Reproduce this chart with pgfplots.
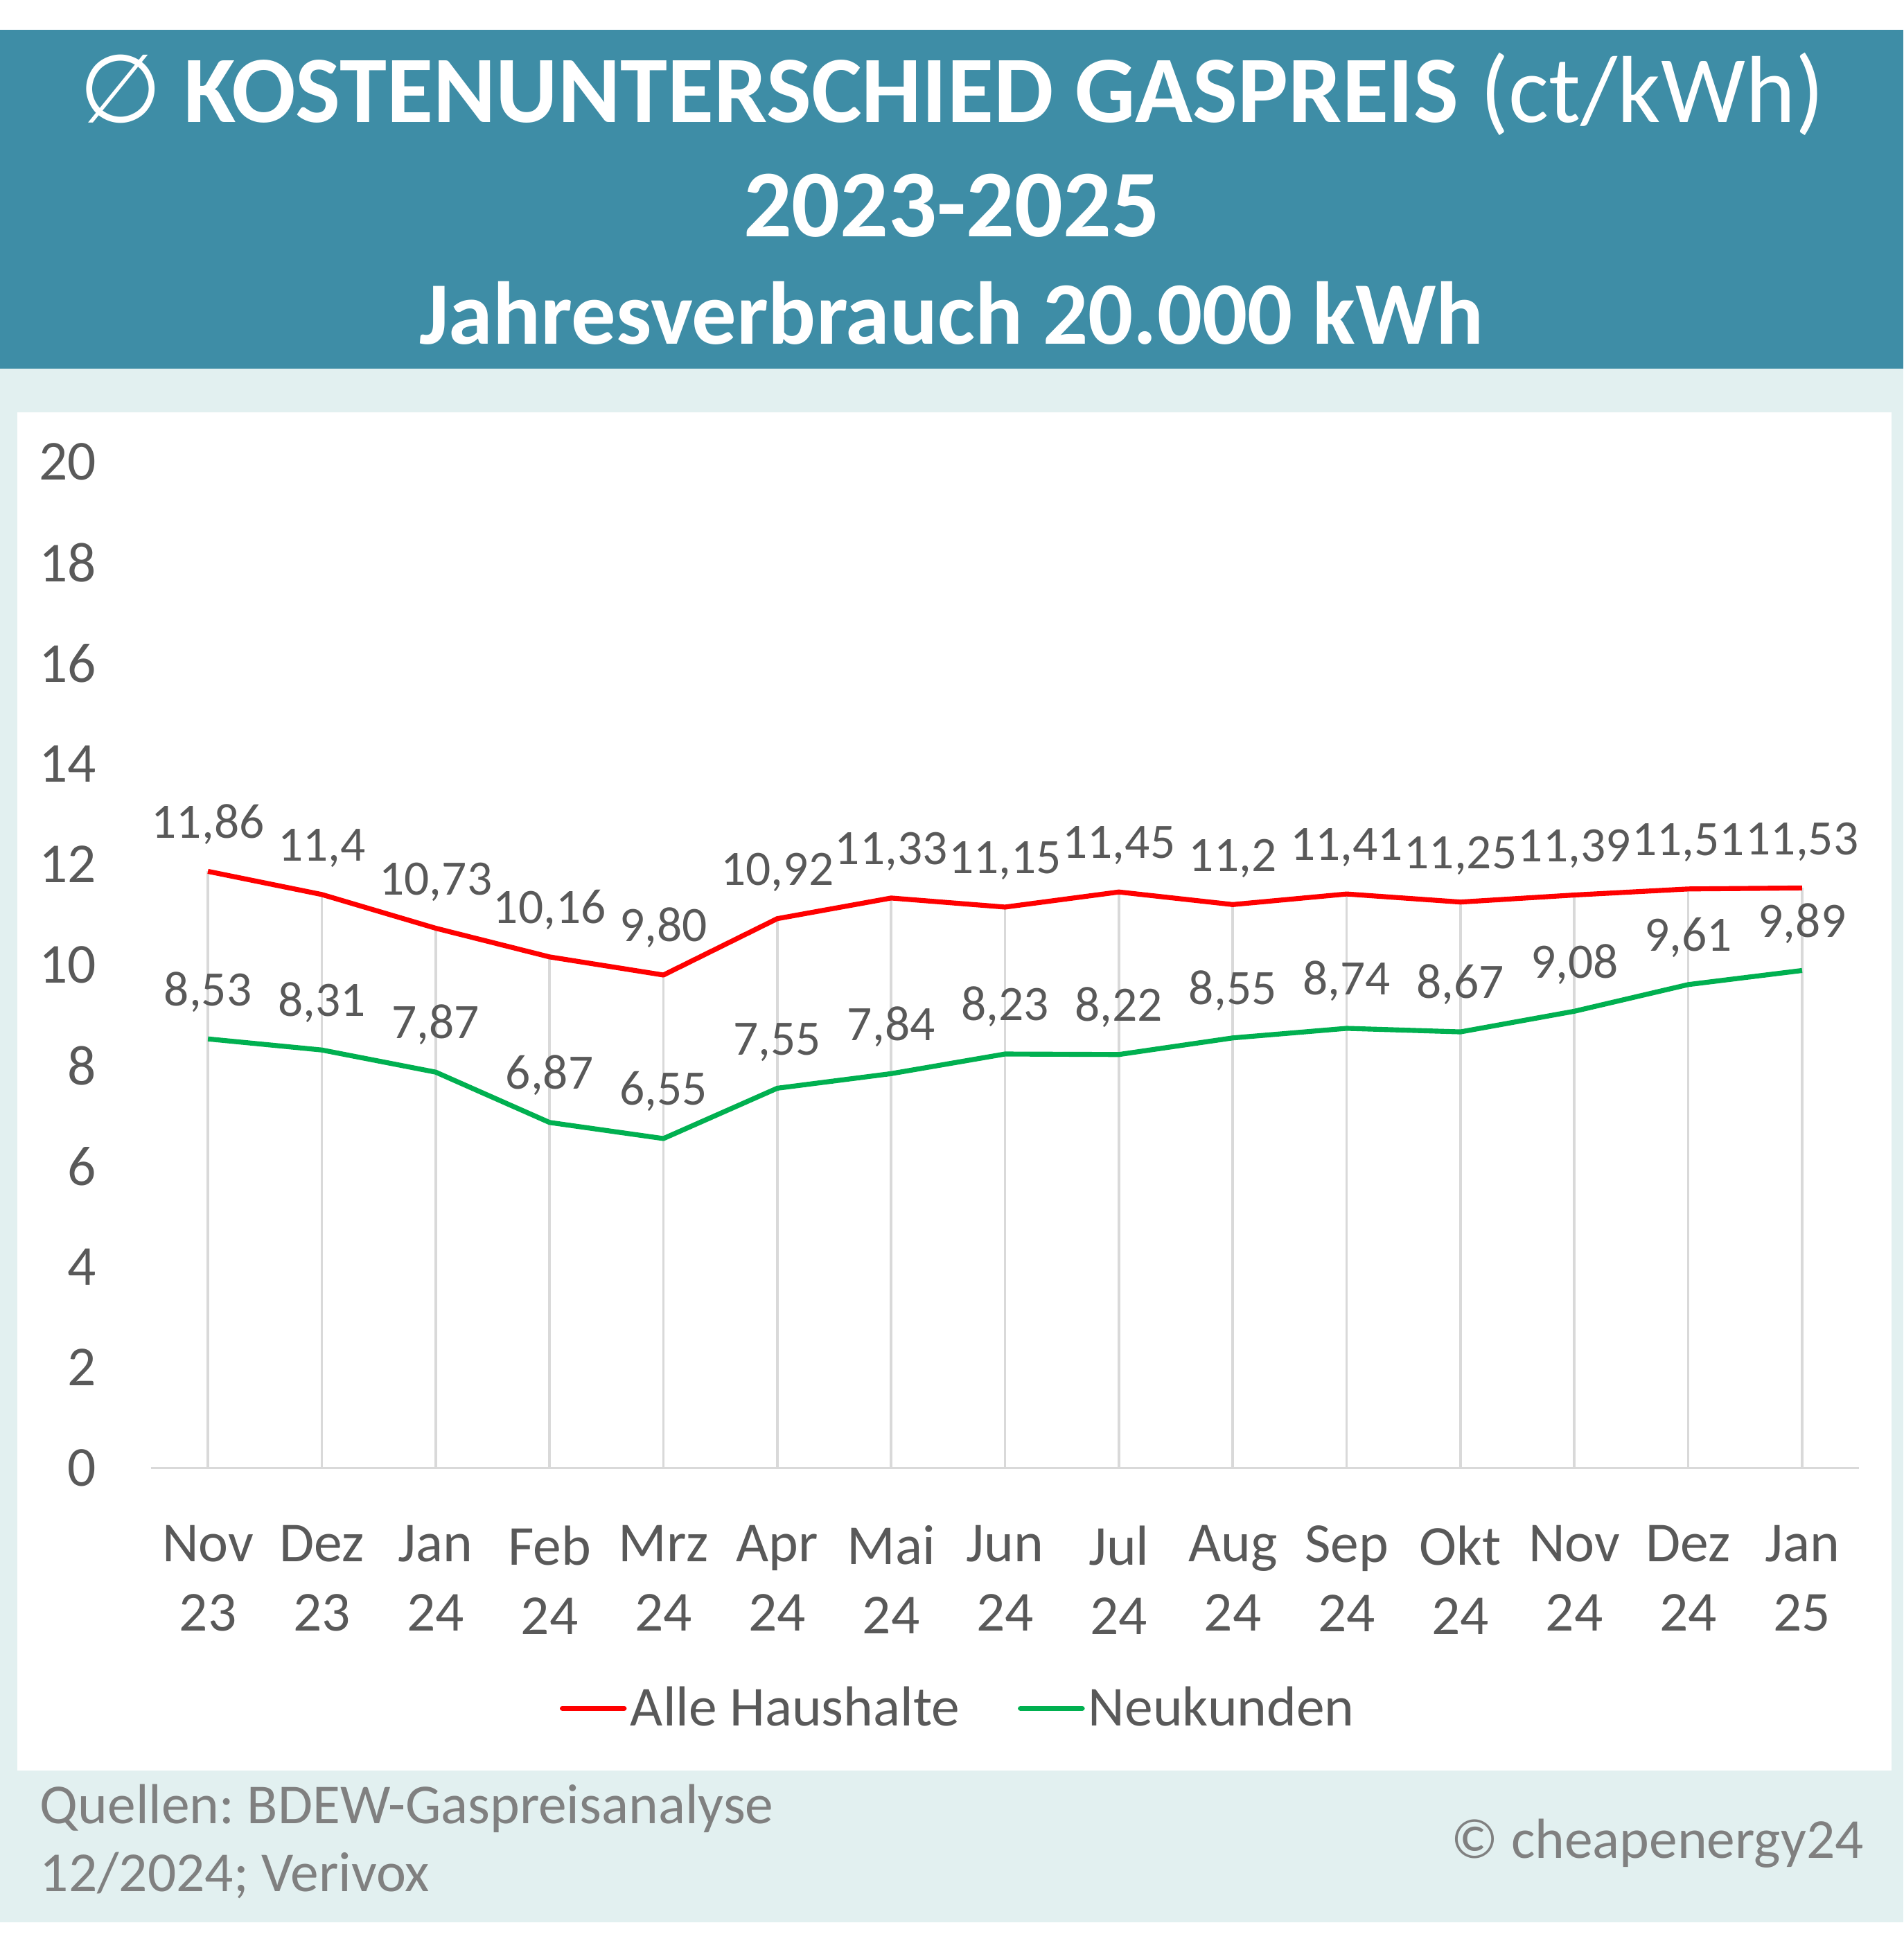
\documentclass[border=0pt]{standalone}
\usepackage{fontspec}
\setmainfont{Carlito}
\newfontfamily\djv{DejaVu Sans}
\usepackage{pgfplots}
\pgfplotsset{compat=1.18}
\usepackage{pgfplotstable}
\frenchspacing

\definecolor{bandteal}{HTML}{3E8DA6}
\definecolor{lightbg}{HTML}{E2F0F0}
\definecolor{txtgray}{HTML}{595959}
\definecolor{footgray}{HTML}{808080}
\definecolor{gridgray}{HTML}{D9D9D9}
\definecolor{alle}{HTML}{FF0000}
\definecolor{neu}{HTML}{00B050}

% month index, series values, printed labels
\pgfplotstableread{
x alle neu la ln
0 11.86 8.53 11,86 8,53
1 11.40 8.31 11,4 8,31
2 10.73 7.87 10,73 7,87
3 10.16 6.87 10,16 6,87
4 9.80 6.55 9,80 6,55
5 10.92 7.55 10,92 7,55
6 11.33 7.84 11,33 7,84
7 11.15 8.23 11,15 8,23
8 11.45 8.22 11,45 8,22
9 11.20 8.55 11,2 8,55
10 11.41 8.74 11,41 8,74
11 11.25 8.67 11,25 8,67
12 11.39 9.08 11,39 9,08
13 11.51 9.61 11,51 9,61
14 11.53 9.89 11,53 9,89
}\data

\begin{document}
\begin{tikzpicture}
\path[use as bounding box] (0,0) rectangle (769pt,-784pt);
\fill[white] (0,0) rectangle (769pt,-784pt);
\fill[bandteal] (0,-12pt) rectangle (769pt,-149pt);
\fill[lightbg] (0,-149pt) rectangle (769pt,-776.5pt);
\fill[white] (7pt,-166.5pt) rectangle (764pt,-715pt);

\node[anchor=base, text=white, inner sep=0pt, font=\fontsize{38.4}{44}\selectfont\bfseries]
  at (384.5pt,-49.5pt) {{\djv\mdseries ∅} KOSTENUNTERSCHIED GASPREIS {\mdseries (ct/kWh)}};
\node[anchor=base, text=white, inner sep=0pt, font=\fontsize{38.6}{44}\selectfont\bfseries]
  at (384.5pt,-95.5pt) {2023-2025};
\node[anchor=base, text=white, inner sep=0pt, font=\fontsize{36}{43}\selectfont\bfseries]
  at (384.5pt,-139pt) {Jahresverbrauch 20.000 kWh};

\begin{axis}[
  at={(61pt,-593pt)}, anchor=south west,
  scale only axis, width=690pt, height=406.5pt,
  xmin=-0.5, xmax=14.5, ymin=0, ymax=20,
  ytick={0,2,...,20},
  xtick={0,...,14},
  xticklabels={Nov\\23,Dez\\23,Jan\\24,Feb\\24,Mrz\\24,Apr\\24,Mai\\24,Jun\\24,Jul\\24,Aug\\24,Sep\\24,Okt\\24,Nov\\24,Dez\\24,Jan\\25},
  axis x line*=bottom, axis y line*=left,
  x axis line style={-, draw=gridgray, line width=1pt},
  y axis line style={draw=none},
  major tick length=0pt,
  /pgf/number format/assume math mode=true,
  ticklabel style={text=txtgray, font=\fontsize{22.8}{28}\selectfont},
  yticklabel style={anchor=east, inner sep=0pt, xshift=-22pt},
  xticklabel style={anchor=north, align=center, inner sep=0pt, yshift=-23pt},
  clip=false,
  legend columns=2,
  legend style={at={(0.473,-0.2386)}, anchor=center, draw=none, fill=none,
    font=\fontsize{22.8}{28}\selectfont, text=txtgray,
    /tikz/every even column/.append style={column sep=22pt},
    nodes={inner sep=1.5pt}},
  legend image code/.code={\draw[#1, line cap=round] (0pt,0pt) -- (25pt,0pt);},
]
\addplot[ycomb, gridgray, line width=1pt, forget plot] table[x=x, y=alle] \data;
\addplot[alle, line width=2pt, line join=round,
  nodes near coords, point meta=explicit symbolic,
  every node near coord/.style={anchor=base, yshift=13.5pt, inner sep=0pt, text=txtgray, font=\fontsize{20}{24}\selectfont}]
  table[x=x, y=alle, meta=la] \data;
\addlegendentry{Alle Haushalte}
\addplot[neu, line width=2pt, line join=round,
  nodes near coords, point meta=explicit symbolic,
  every node near coord/.style={anchor=base, yshift=13.5pt, inner sep=0pt, text=txtgray, font=\fontsize{20}{24}\selectfont}]
  table[x=x, y=neu, meta=ln] \data;
\addlegendentry{Neukunden}
\end{axis}

\node[anchor=base west, inner sep=0pt, text=footgray, font=\fontsize{22.8}{28}\selectfont]
  at (16pt,-736.5pt) {Quellen: BDEW-Gaspreisanalyse};
\node[anchor=base west, inner sep=0pt, text=footgray, font=\fontsize{22.8}{28}\selectfont]
  at (16pt,-764pt) {12/2024; Verivox};
\node[anchor=base east, inner sep=0pt, text=footgray, font=\fontsize{22.8}{28}\selectfont]
  at (753pt,-750.5pt) {© cheapenergy24};
\end{tikzpicture}
\end{document}
